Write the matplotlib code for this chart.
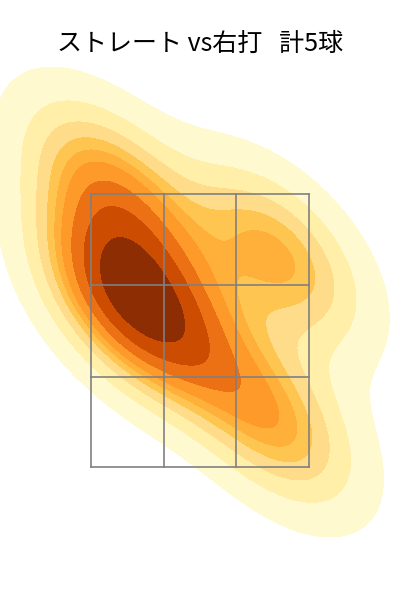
import numpy as np
import matplotlib
matplotlib.use('Agg')
import matplotlib.pyplot as plt

plt.rcParams['font.family'] = ['Noto Sans CJK JP', 'DejaVu Sans']

title = 'ストレート vs右打   計5球'

# pitch locations (feet from plate centre, feet above ground)
pitch_x = [-0.50, -0.33, -0.60, 0.52, 0.48]
pitch_y = [1.97, 2.00, 2.77, 2.30, 1.20]

zone_x = [-0.725, -0.24, 0.24, 0.725]
zone_y = [0.89, 1.49, 2.10, 2.71]

colors = ['#fff9cf', '#ffefa8', '#fedc8a', '#fec550', '#feb03a', '#fe9a2a', '#ec7014', '#cc4c02', '#8c2d04']
n_levels = 10


def kde(xs, ys, gx, gy):
    data = np.array([xs, ys])
    cov = np.cov(data) * len(xs) ** (-1 / 3)
    inv = np.linalg.inv(cov)
    z = np.zeros_like(gx)
    for px, py in zip(xs, ys):
        dx, dy = gx - px, gy - py
        z += np.exp(-0.5 * (inv[0, 0] * dx**2 + 2 * inv[0, 1] * dx * dy + inv[1, 1] * dy**2))
    return z / (len(xs) * 2 * np.pi * np.sqrt(np.linalg.det(cov)))


fig = plt.figure(figsize=(4, 6), dpi=100)
ax = fig.add_axes([0, 0, 1, 1])
ax.set_xlim(-1.333, 1.333)
ax.set_ylim(0, 4)

gx, gy = np.meshgrid(np.linspace(-1.333, 1.333, 400), np.linspace(0, 4, 600))
z = kde(pitch_x, pitch_y, gx, gy)

# iso-proportion levels, like seaborn
vals = np.sort(z.ravel())
cum = np.cumsum(vals)
cum = cum / cum[-1]
levels = np.interp(np.linspace(0.05, 1, n_levels), cum, vals)
levels[-1] = z.max()
ax.contourf(gx, gy, z, levels=levels, colors=colors)

for v in zone_x:
    ax.plot([v, v], [zone_y[0], zone_y[-1]], color='gray', lw=1.2)
for v in zone_y:
    ax.plot([zone_x[0], zone_x[-1]], [v, v], color='gray', lw=1.2)

ax.axis('off')
fig.text(0.5, 0.927, title, ha='center', va='center', fontsize=18, color='black')
fig.savefig('out.png', dpi=100)
